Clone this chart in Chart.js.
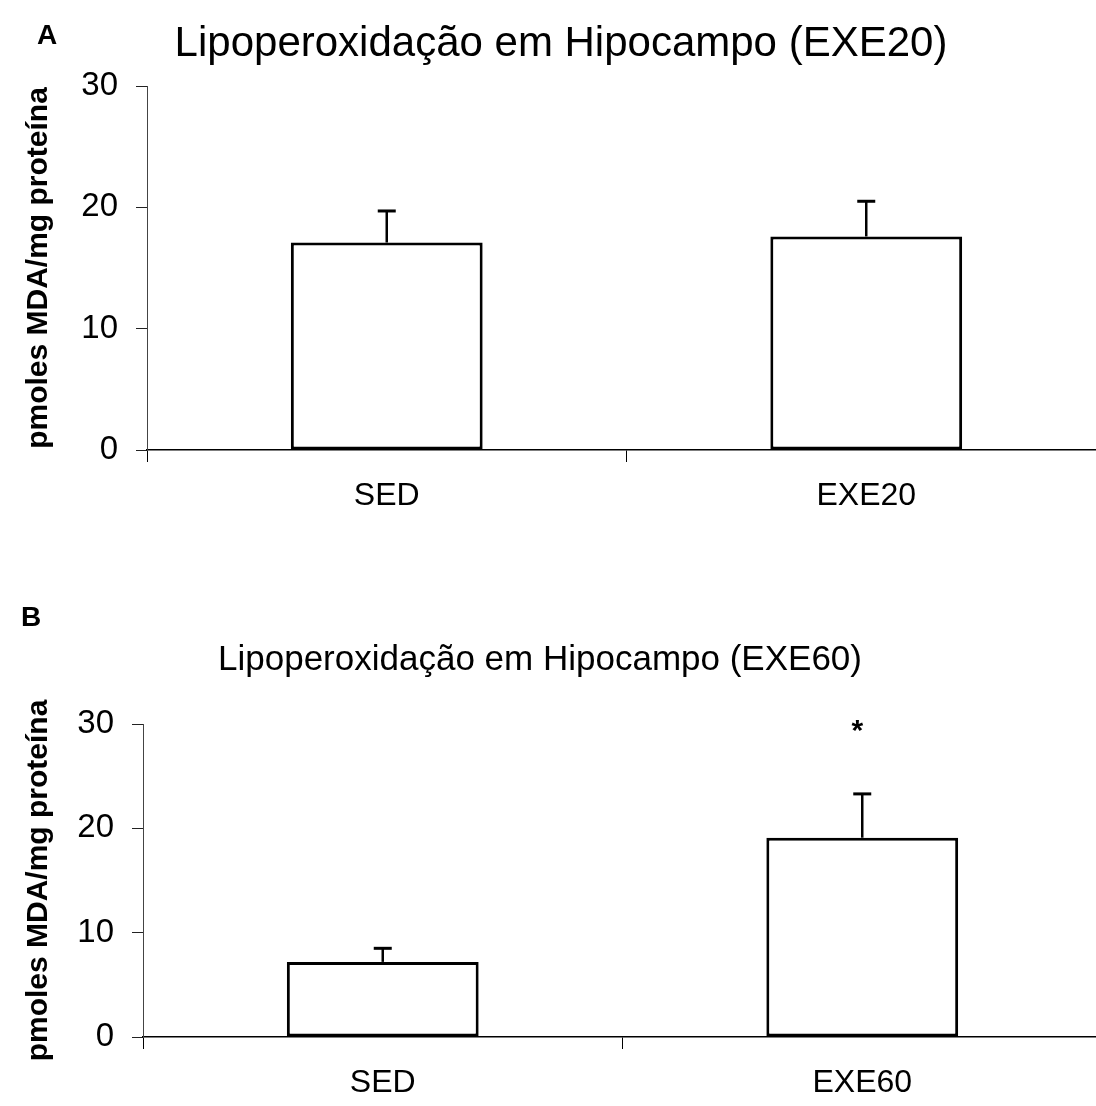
<!DOCTYPE html>
<html>
<head>
<meta charset="utf-8">
<script src="https://cdn.jsdelivr.net/npm/chart.js@4.4.1/dist/chart.umd.min.js"></script>
<style>
  html, body { margin: 0; padding: 0; background: #fff; overflow: hidden; width: 1096px; height: 1106px; }
  .panel { position: absolute; left: 0; }
  #pa { top: 0; }
  #pb { top: 560px; }
</style>
</head>
<body>
<div class="panel" id="pa"><canvas id="chartA" width="1110" height="540"></canvas></div>
<div class="panel" id="pb"><canvas id="chartB" width="1110" height="546"></canvas></div>
<script>
// ---- data ----
const panelLetters = ['A', 'B'];
const titles = ['Lipoperoxidação em Hipocampo (EXE20)', 'Lipoperoxidação em Hipocampo (EXE60)'];
const yAxisTitle = 'pmoles MDA/mg proteína';
const yTicks = [0, 10, 20, 30];

const categoriesA = ['SED', 'EXE20'];
const meansA = [17.1, 17.6];
const semA = [2.6, 2.9];
const marksA = ['', ''];

const categoriesB = ['SED', 'EXE60'];
const meansB = [7.2, 19.1];
const semB = [1.3, 4.2];
const marksB = ['', '*'];

// ---- plugin: error bars, significance marks, titles ----
const extrasPlugin = {
  id: 'extras',
  afterDatasetsDraw(chart, args, opts) {
    const ctx = chart.ctx;
    const meta = chart.getDatasetMeta(0);
    const ys = chart.scales.y;
    ctx.save();
    ctx.strokeStyle = '#000';
    meta.data.forEach((el, i) => {
      const top = ys.getPixelForValue(opts.means[i] + opts.sem[i]);
      ctx.lineWidth = 2.5;
      ctx.beginPath();
      ctx.moveTo(el.x, el.y);
      ctx.lineTo(el.x, top);
      ctx.stroke();
      ctx.lineWidth = 3;
      ctx.beginPath();
      ctx.moveTo(el.x - 9, top);
      ctx.lineTo(el.x + 9, top);
      ctx.stroke();
      if (opts.marks[i]) {
        ctx.fillStyle = '#000';
        ctx.font = 'bold 30px "Liberation Sans", Arial, sans-serif';
        ctx.textAlign = 'center';
        ctx.textBaseline = 'middle';
        ctx.fillText(opts.marks[i], el.x - 5, ys.getPixelForValue(opts.markAt) + 8);
      }
    });
    ctx.restore();
  },
  afterDraw(chart, args, opts) {
    const ctx = chart.ctx;
    ctx.save();
    ctx.fillStyle = '#000';
    ctx.textBaseline = 'alphabetic';
    ctx.textAlign = 'left';
    ctx.font = 'bold 28px "Liberation Sans", Arial, sans-serif';
    ctx.fillText(opts.letter, opts.letterX, opts.letterY);
    ctx.textAlign = 'center';
    ctx.font = opts.titleSize + 'px "Liberation Sans", Arial, sans-serif';
    ctx.fillText(opts.title, opts.titleX, opts.titleY);
    ctx.restore();
  }
};

function makeChart(id, cats, means, sem, marks, letter, title, layout) {
  return new Chart(document.getElementById(id), {
    type: 'bar',
    data: {
      labels: cats,
      datasets: [{
        data: means,
        backgroundColor: '#fff',
        borderColor: '#000',
        borderWidth: 3,
        borderSkipped: false,
        barPercentage: 0.4,
        categoryPercentage: 1.0
      }]
    },
    plugins: [extrasPlugin],
    options: {
      responsive: false,
      animation: false,
      events: [],
      layout: { padding: layout.padding },
      plugins: {
        legend: { display: false },
        tooltip: { enabled: false },
        title: { display: false },
        extras: {
          means: means, sem: sem, marks: marks, markAt: 30,
          letter: letter, letterX: layout.letterX, letterY: layout.letterY,
          title: title, titleX: layout.titleX, titleY: layout.titleY, titleSize: layout.titleSize
        }
      },
      scales: {
        x: {
          offset: true,
          afterFit(s) { s.height = 60; },
          grid: { offset: true, drawOnChartArea: false, drawTicks: true, tickLength: 12, color: '#000', lineWidth: 1 },
          border: { display: true, color: '#000', width: 1.5 },
          ticks: { color: '#000', padding: 15, font: { family: '"Liberation Sans", Arial, sans-serif', size: 32 } }
        },
        y: {
          min: 0, max: 30,
          afterFit(s) { s.width = layout.axisX; },
          afterBuildTicks(s) { s.ticks = yTicks.map(v => ({ value: v })); },
          grid: { drawOnChartArea: false, drawTicks: true, tickLength: 11, color: '#222', lineWidth: 1 },
          border: { display: true, color: '#444', width: 1 },
          ticks: { color: '#000', padding: 18, font: { family: '"Liberation Sans", Arial, sans-serif', size: 33 } },
          title: {
            display: true, text: yAxisTitle, color: '#000',
            padding: { top: 21, bottom: 0 },
            font: { family: '"Liberation Sans", Arial, sans-serif', size: 30, weight: 'bold' }
          }
        }
      }
    }
  });
}

makeChart('chartA', categoriesA, meansA, semA, marksA, panelLetters[0], titles[0], {
  padding: { top: 86, right: 4, bottom: 30, left: 0 },
  axisX: 147,
  letterX: 37, letterY: 44,
  titleX: 561, titleY: 56, titleSize: 42
});

makeChart('chartB', categoriesB, meansB, semB, marksB, panelLetters[1], titles[1], {
  padding: { top: 164, right: 8, bottom: 9, left: 0 },
  axisX: 143,
  letterX: 21, letterY: 66,
  titleX: 540, titleY: 110, titleSize: 35
});
</script>
</body>
</html>
